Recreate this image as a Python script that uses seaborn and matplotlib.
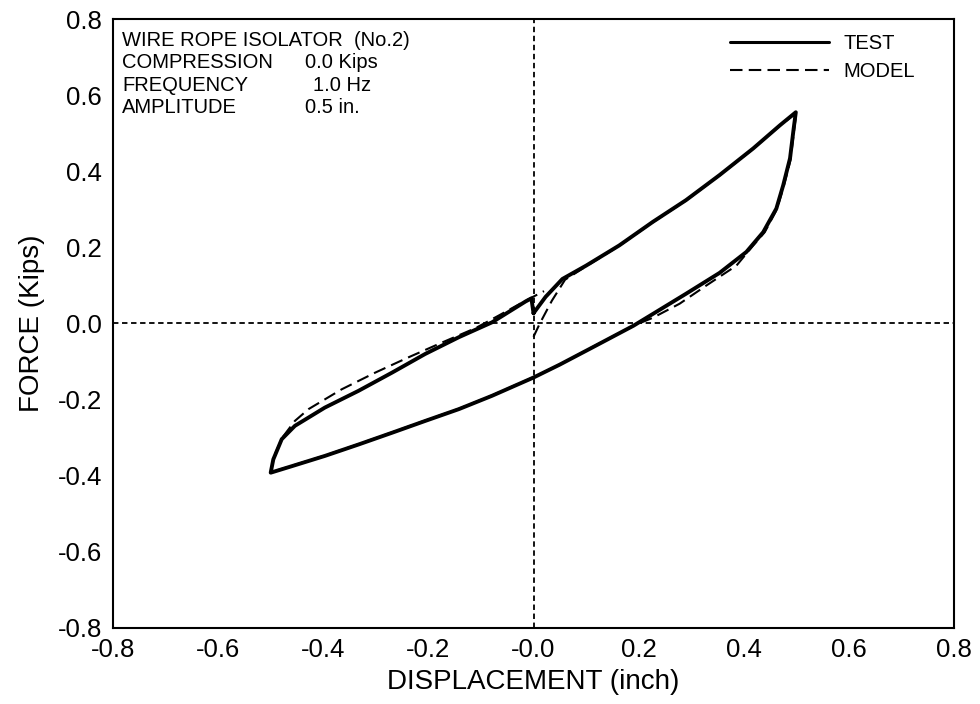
import matplotlib
matplotlib.use("Agg")
import matplotlib.pyplot as plt
from matplotlib.lines import Line2D
import seaborn as sns
import pandas as pd

# Measured hysteresis loop (displacement in inch, force in kips)
test_x = [0.0, 0.023, 0.055, 0.1, 0.163, 0.227, 0.29, 0.354, 0.418, 0.469, 0.499,
          0.495, 0.488, 0.475, 0.462, 0.437, 0.405, 0.354, 0.29, 0.227, 0.19, 0.112,
          0.05, 0.0, -0.079, -0.142, -0.206, -0.269, -0.333, -0.397, -0.46, -0.5,
          -0.495, -0.479, -0.454, -0.397, -0.333, -0.269, -0.206, -0.142, -0.079,
          -0.015, -0.004, 0.0]
test_y = [0.027, 0.07, 0.117, 0.152, 0.205, 0.267, 0.324, 0.39, 0.46, 0.521, 0.555,
          0.513, 0.434, 0.363, 0.302, 0.24, 0.188, 0.133, 0.078, 0.025, -0.006, -0.063,
          -0.108, -0.142, -0.19, -0.225, -0.256, -0.287, -0.318, -0.348, -0.375, -0.392,
          -0.357, -0.304, -0.269, -0.221, -0.177, -0.129, -0.08, -0.036, 0.003,
          0.058, 0.066, 0.027]

# Analytical model of the same cycle
model_x = [0.0, 0.012, 0.035, 0.06, 0.1, 0.163, 0.227, 0.29, 0.354, 0.418, 0.469, 0.5,
           0.496, 0.489, 0.476, 0.463, 0.44, 0.418, 0.386, 0.329, 0.278, 0.227, 0.19,
           0.112, 0.05, 0.0, -0.079, -0.142, -0.206, -0.269, -0.333, -0.397, -0.46, -0.5,
           -0.494, -0.478, -0.454, -0.428, -0.365, -0.301, -0.238, -0.174, -0.11,
           -0.066, -0.015, 0.02]
model_y = [-0.035, 0.0, 0.06, 0.115, 0.15, 0.204, 0.266, 0.323, 0.389, 0.459, 0.52, 0.553,
           0.51, 0.43, 0.36, 0.3, 0.24, 0.205, 0.152, 0.1, 0.052, 0.015, -0.006,
           -0.062, -0.108, -0.141, -0.189, -0.224, -0.255, -0.286, -0.317, -0.347, -0.374, -0.391,
           -0.35, -0.3, -0.256, -0.225, -0.173, -0.129, -0.089, -0.05, -0.012,
           0.021, 0.06, 0.085]

tick_values = [-0.8, -0.6, -0.4, -0.2, 0.0, 0.2, 0.4, 0.6, 0.8]
x_tick_labels = ["-0.8", "-0.6", "-0.4", "-0.2", "-0.0", "0.2", "0.4", "0.6", "0.8"]
y_tick_labels = ["-0.8", "-0.6", "-0.4", "-0.2", "0.0", "0.2", "0.4", "0.6", "0.8"]

info_names = ["WIRE ROPE ISOLATOR  (No.2)", "COMPRESSION", "FREQUENCY", "AMPLITUDE"]
info_values = ["", "0.0 Kips", "1.0 Hz", "0.5 in."]

sns.set_theme(style="white")
plt.rcParams["font.family"] = ["Liberation Sans", "DejaVu Sans"]
plt.rcParams["axes.unicode_minus"] = False
plt.rcParams["text.color"] = "black"

test_df = pd.DataFrame({"disp": test_x, "force": test_y})
model_df = pd.DataFrame({"disp": model_x, "force": model_y})

fig = plt.figure(figsize=(9.8, 7.04), dpi=100)
ax = fig.add_axes([0.1153, 0.108, 0.8582, 0.865])

sns.lineplot(data=test_df, x="disp", y="force", sort=False, estimator=None,
             color="black", lw=2.8, ax=ax)
sns.lineplot(data=model_df, x="disp", y="force", sort=False, estimator=None,
             color="black", lw=1.5, ax=ax)
ax.lines[-1].set_dashes((6, 3))

ax.axhline(0, color="black", lw=1.3, dashes=(3, 2), zorder=0)
ax.axvline(0, color="black", lw=1.3, dashes=(3, 2), zorder=0)

ax.set_xlim(-0.8, 0.8)
ax.set_ylim(-0.8, 0.8)
ax.set_xticks(tick_values)
ax.set_xticklabels(x_tick_labels)
ax.set_yticks(tick_values)
ax.set_yticklabels(y_tick_labels)
ax.tick_params(axis="x", direction="inout", length=9, width=1.3, labelsize=18.5,
               pad=3, colors="black")
ax.tick_params(axis="y", direction="out", length=7, width=1.3, labelsize=18.5,
               pad=1, colors="black")
for side in ["left", "right", "top", "bottom"]:
    ax.spines[side].set_color("black")
    ax.spines[side].set_linewidth(1.5)

ax.set_xlabel("DISPLACEMENT (inch)", fontsize=20, labelpad=5, color="black")
ax.set_ylabel("FORCE (Kips)", fontsize=20, labelpad=9, color="black")

row_y = [0.9655, 0.9286, 0.8916, 0.8555]
value_x = [0.228, 0.228, 0.238, 0.228]
for yy, name, val, vx in zip(row_y, info_names, info_values, value_x):
    ax.text(0.011, yy, name, transform=ax.transAxes, fontsize=14.5,
            va="center", ha="left", color="black")
    if val:
        ax.text(vx, yy, val, transform=ax.transAxes, fontsize=14.5,
                va="center", ha="left", color="black")

handles = [Line2D([], [], color="black", lw=2.2),
           Line2D([], [], color="black", lw=1.5, dashes=(6, 3))]
ax.legend(handles, ["TEST", "MODEL"], loc="upper right",
          bbox_to_anchor=(0.965, 0.992), frameon=False, fontsize=14.5,
          labelcolor="black",
          handlelength=4.9, handletextpad=0.7, labelspacing=0.45, borderpad=0)

fig.savefig("out.png", dpi=100)
